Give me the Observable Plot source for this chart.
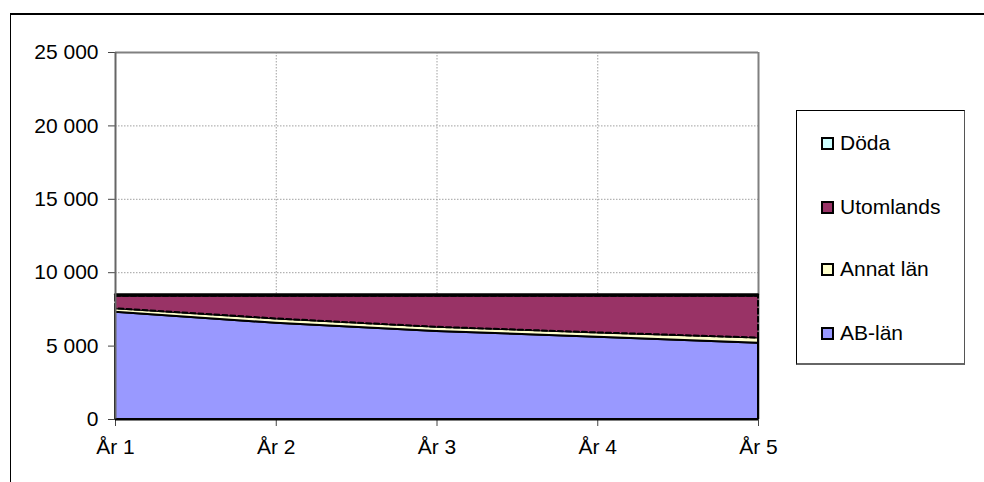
<!DOCTYPE html>
<html><head><meta charset="utf-8">
<script src="https://cdn.jsdelivr.net/npm/d3@7"></script>
<script src="https://cdn.jsdelivr.net/npm/@observablehq/plot@0.6"></script>
<style>
body{margin:0;background:#fff;font-family:"Liberation Sans",Arial,sans-serif;}
#wrap{position:relative;width:984px;height:482px;overflow:hidden;background:#fff;}
#wrap svg{position:absolute;left:0;top:0;}
#frame{position:absolute;left:10px;top:13px;width:1000px;height:500px;border-left:1.5px solid #000;border-top:2px solid #000;}
#legend{position:absolute;left:796px;top:110px;width:167px;height:252px;border:1px solid #000;border-right-color:#555;border-bottom:2px solid #666;background:#fff;}
.item{position:absolute;left:24px;height:24px;display:flex;align-items:center;font-size:21px;color:#000;white-space:nowrap;}
.sw{width:9px;height:9px;border:2px solid #000;margin-right:6px;flex:none;}
</style></head>
<body>
<div id="wrap"><div id="frame"></div></div>
<script>
const years = ["År 1", "År 2", "År 3", "År 4", "År 5"];
const seriesNames = ["AB-län", "Annat län", "Utomlands", "Döda"];
const abLan = [7300, 6550, 6000, 5600, 5200];
const annatLan = [250, 300, 280, 300, 350];
const utomlands = [850, 1550, 2120, 2500, 2850];
const doda = [100, 100, 100, 100, 100];
const seriesColors = ["#9999FF", "#FFFFCC", "#993366", "#CCFFFF"];
const yTicks = [0, 5000, 10000, 15000, 20000, 25000];
const yTickLabels = ["0", "5 000", "10 000", "15 000", "20 000", "25 000"];

const seriesValues = [abLan, annatLan, utomlands, doda];
const rows = [];
const base = years.map(() => 0);
seriesNames.forEach((s, k) => {
  years.forEach((yr, i) => {
    const v = seriesValues[k][i];
    rows.push({x: i + 1, series: s, y1: base[i], y2: base[i] + v});
    base[i] += v;
  });
});
const xIdx = years.map((d, i) => i + 1);

const areaMarks = seriesNames.map((s, k) =>
  Plot.areaY(rows.filter(r => r.series === s), {
    x: "x", y1: "y1", y2: "y2",
    fill: seriesColors[k], stroke: "#000", strokeWidth: 2,
    strokeDasharray: s === "Utomlands" ? "5,3" : null,
    curve: "linear"
  })
);

const chart = Plot.plot({
  width: 984, height: 482,
  marginLeft: 115, marginRight: 226, marginTop: 52, marginBottom: 63,
  style: {fontFamily: "'Liberation Sans', Arial, sans-serif", fontSize: "21px", color: "#000", background: "transparent"},
  x: {type: "linear", domain: [1, 5]},
  y: {domain: [0, 25000]},
  marks: [
    Plot.ruleY(yTicks.slice(1, -1), {stroke: "#a0a0a0", strokeWidth: 1, strokeDasharray: "1.5,1.5"}),
    Plot.ruleX(xIdx.slice(1, -1), {stroke: "#a0a0a0", strokeWidth: 1, strokeDasharray: "1.5,1.5"}),
    Plot.ruleY([25000], {stroke: "#808080", strokeWidth: 2}),
    Plot.ruleX([5], {stroke: "#808080", strokeWidth: 2}),
    ...areaMarks,
    Plot.axisY({ticks: yTicks, tickFormat: d => yTickLabels[yTicks.indexOf(d)], tickSize: 7, tickPadding: 10, fontSize: 21, stroke: "#444", label: null}),
    Plot.axisX({ticks: xIdx, tickFormat: d => years[d - 1], tickSize: 7, tickPadding: 13, fontSize: 21, stroke: "#444", label: null}),
    Plot.ruleX([1], {stroke: "#666", strokeWidth: 2}),
    Plot.ruleY([0], {stroke: "#000", strokeWidth: 2})
  ]
});
document.getElementById("wrap").appendChild(chart);

const legend = document.createElement("div");
legend.id = "legend";
const legendTops = [20, 84, 146, 210];
const legendOrder = [3, 2, 1, 0];
legendOrder.forEach((k, j) => {
  const it = document.createElement("div");
  it.className = "item";
  it.style.top = legendTops[j] + "px";
  const sw = document.createElement("div");
  sw.className = "sw";
  sw.style.background = seriesColors[k];
  const tx = document.createElement("span");
  tx.textContent = seriesNames[k];
  it.appendChild(sw); it.appendChild(tx);
  legend.appendChild(it);
});
document.getElementById("wrap").appendChild(legend);
</script>
</body></html>
